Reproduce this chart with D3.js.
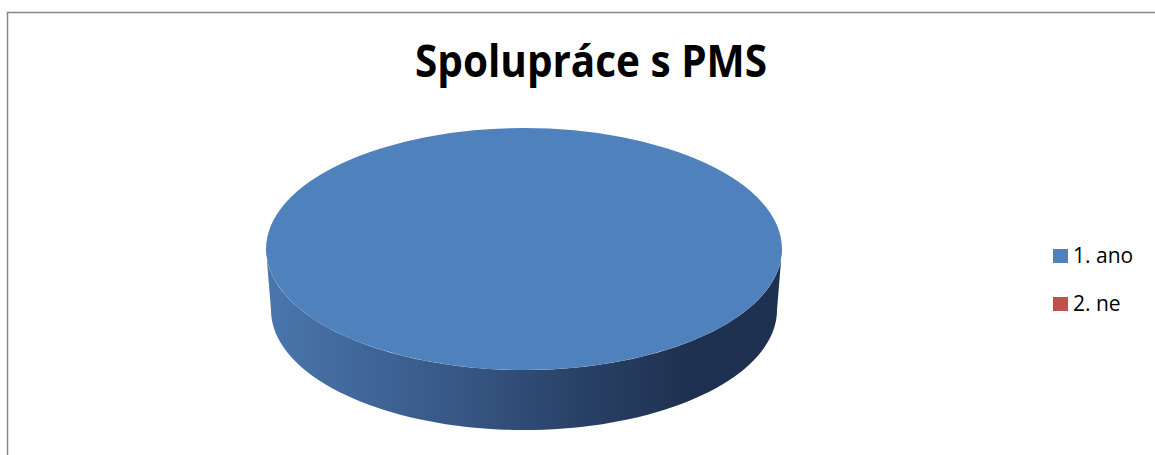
<!DOCTYPE html>
<html>
<head>
<meta charset="utf-8">
<script src="https://cdn.jsdelivr.net/npm/d3@7"></script>
<style>
  html, body { margin: 0; padding: 0; background: #fff; overflow: hidden; }
  svg { display: block; }
</style>
</head>
<body>
<div id="chart"></div>
<script>
// chart data
const title = 'Spolupráce s PMS';
const categories = ['1. ano', '2. ne'];
const values = [100, 0];
const colors = ['#4f81bd', '#c0504d'];
const sideColors = [['#4a76ae', '#1f3150'], ['#b04a47', '#6e2a28']];

const W = 1155, H = 455;

const svg = d3.select('#chart')
  .append('svg')
  .attr('width', W)
  .attr('height', H);

// chart area border (runs off right/bottom like in the original)
svg.append('rect')
  .attr('x', 7.5)
  .attr('y', 12.5)
  .attr('width', W + 20)
  .attr('height', H + 20)
  .attr('fill', 'none')
  .attr('stroke', '#878787')
  .attr('stroke-width', 1.5);

// title
svg.append('text')
  .attr('x', 591)
  .attr('y', 77)
  .attr('text-anchor', 'middle')
  .attr('textLength', 352)
  .attr('lengthAdjust', 'spacingAndGlyphs')
  .style('font-family', '"Open Sans", "Liberation Sans", sans-serif')
  .style('font-weight', 'bold')
  .style('font-size', '44px')
  .style('fill', '#000')
  .text(title);

// 3D pie geometry
const cx = 524, cy = 249;
const rx = 258, ry = 121;
const depth = 61;
const rx2 = 253, ry2 = 120;   // bottom rim slightly narrower (perspective)

const pie = d3.pie().sort(null).value(d => d)
  .startAngle(0).endAngle(2 * Math.PI);
const arcs = pie(values);

// gradients for the sides
const defs = svg.append('defs');
arcs.forEach((a, i) => {
  const g = defs.append('linearGradient')
    .attr('id', 'side' + i)
    .attr('gradientUnits', 'userSpaceOnUse')
    .attr('x1', cx - rx).attr('x2', cx + rx)
    .attr('y1', 0).attr('y2', 0);
  const c = sideColors[i];
  const mid = d3.interpolateRgb(c[0], c[1]);
  g.append('stop').attr('offset', '0%').attr('stop-color', c[0]);
  g.append('stop').attr('offset', '35%').attr('stop-color', mid(0.42));
  g.append('stop').attr('offset', '62%').attr('stop-color', mid(0.78));
  g.append('stop').attr('offset', '82%').attr('stop-color', c[1]);
  g.append('stop').attr('offset', '100%').attr('stop-color', c[1]);
});

// angle -> point on an ellipse (d3 angle convention, 0 at 12 o'clock)
const pt = (a, erx, ery, dy) => [cx + erx * Math.sin(a), cy + dy - ery * Math.cos(a)];

// side walls: only the front half (PI/2 .. 3PI/2) is visible
const sides = svg.append('g');
arcs.forEach((a, i) => {
  if (a.value <= 0) return;
  const s = Math.max(a.startAngle, Math.PI / 2);
  const e = Math.min(a.endAngle, 3 * Math.PI / 2);
  if (e <= s) return;
  const n = 80;
  const topPts = d3.range(n + 1).map(k => pt(s + (e - s) * k / n, rx, ry, 0));
  const botPts = d3.range(n + 1).map(k => pt(e - (e - s) * k / n, rx2, ry2, depth));
  sides.append('path')
    .attr('d', d3.line()(topPts.concat(botPts)) + 'Z')
    .attr('fill', 'url(#side' + i + ')');
});

// top face
const arc = d3.arc().innerRadius(0).outerRadius(rx);
svg.append('g')
  .attr('transform', `translate(${cx},${cy}) scale(1,${ry / rx})`)
  .selectAll('path')
  .data(arcs.filter(d => d.value > 0))
  .join('path')
  .attr('d', arc)
  .attr('fill', d => colors[d.index]);

// legend
const legend = svg.append('g').attr('transform', 'translate(1053,249)');
const item = legend.selectAll('g')
  .data(categories)
  .join('g')
  .attr('transform', (d, i) => `translate(0,${i * 48})`);
item.append('rect')
  .attr('width', 15)
  .attr('height', 14)
  .attr('fill', (d, i) => colors[i]);
item.append('text')
  .attr('x', 20)
  .attr('y', 14)
  .style('font-family', '"Open Sans", "Liberation Sans", sans-serif')
  .style('font-size', '21px')
  .style('fill', '#000')
  .text(d => d);
</script>
</body>
</html>
